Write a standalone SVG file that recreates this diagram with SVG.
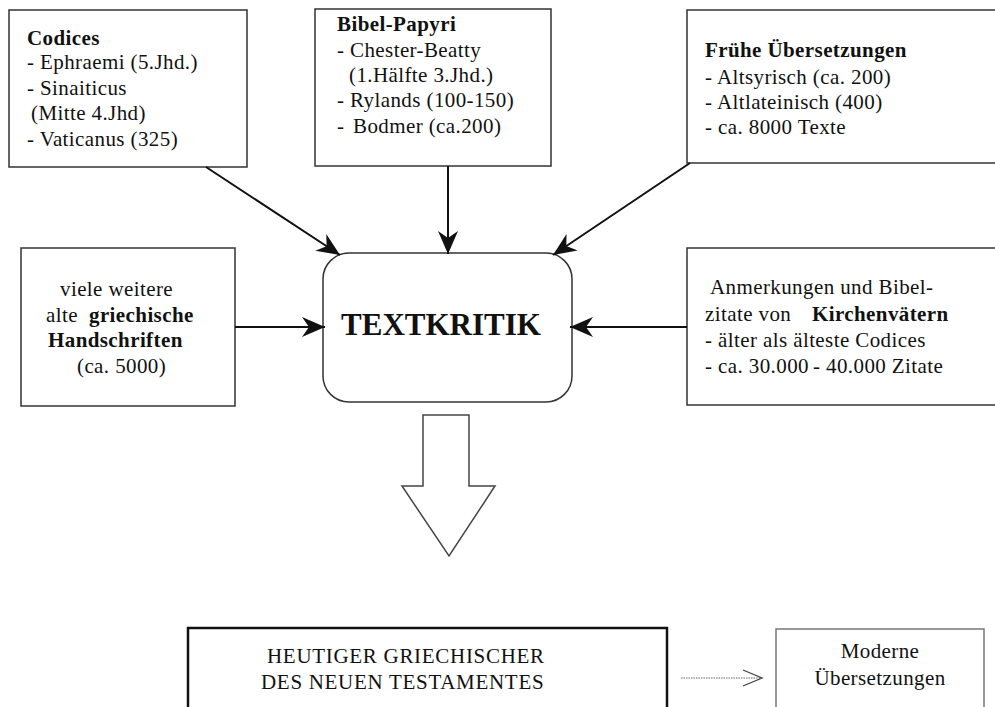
<svg xmlns="http://www.w3.org/2000/svg" width="995" height="707" viewBox="0 0 995 707">
<defs>
<style>
.box{fill:#fff;stroke:#333;stroke-width:1.5}
.t{font-family:"Liberation Serif","Times New Roman",serif;font-size:21px;letter-spacing:0.4px;fill:#111}
.b{font-weight:bold}
.con{stroke:#111;stroke-width:2;fill:none}
</style>
<marker id="ah" markerUnits="userSpaceOnUse" markerWidth="26" markerHeight="22" viewBox="0 -11 26 22" refX="23" refY="0" orient="auto">
<path d="M0,-10 L23,0 L0,10 L7,0 z" fill="#111"/>
</marker>
</defs>
<rect width="995" height="707" fill="#fff"/>

<g id="codices">
<rect class="box" x="9" y="10" width="238" height="157"/>
<text class="t"><tspan class="b" x="27" y="45">Codices</tspan><tspan x="27" y="69">- Ephraemi (5.Jhd.)</tspan><tspan x="27" y="95">- Sinaiticus</tspan><tspan x="31" y="120">(Mitte 4.Jhd)</tspan><tspan x="27" y="146">- Vaticanus (325)</tspan></text>
</g>

<g id="papyri">
<rect class="box" x="315" y="9" width="236" height="157"/>
<text class="t"><tspan class="b" x="337" y="31">Bibel-Papyri</tspan><tspan x="337" y="57">- Chester-Beatty</tspan><tspan x="349" y="82">(1.Hälfte 3.Jhd.)</tspan><tspan x="337" y="107">- Rylands (100-150)</tspan><tspan x="337" y="133">-</tspan><tspan x="353" y="133">Bodmer (ca.200)</tspan></text>
</g>

<g id="uebersetzungen">
<rect class="box" x="687" y="10" width="320" height="153"/>
<text class="t"><tspan class="b" x="705" y="57">Frühe Übersetzungen</tspan><tspan x="705" y="84">- Altsyrisch (ca. 200)</tspan><tspan x="705" y="109">- Altlateinisch (400)</tspan><tspan x="705" y="134">- ca. 8000 Texte</tspan></text>
</g>

<g id="handschriften">
<rect class="box" x="21" y="248" width="214" height="158"/>
<text class="t"><tspan x="60" y="296">viele weitere</tspan><tspan x="46" y="322">alte</tspan><tspan class="b" x="89" y="322">griechische</tspan><tspan class="b" x="48" y="347">Handschriften</tspan><tspan x="77" y="373">(ca. 5000)</tspan></text>
</g>

<g id="kirchenvaeter">
<rect class="box" x="687" y="248" width="320" height="157"/>
<text class="t"><tspan x="710" y="294">Anmerkungen und Bibel-</tspan><tspan x="705" y="321">zitate von</tspan><tspan class="b" x="812" y="321">Kirchenvätern</tspan><tspan x="705" y="347">- älter als älteste Codices</tspan><tspan x="705" y="373">- ca. 30.000</tspan><tspan x="813" y="373">- 40.000 Zitate</tspan></text>
</g>

<g id="textkritik">
<rect class="box" x="323" y="253" width="249" height="149" rx="26" ry="26"/>
<text class="t b" x="441" y="335" text-anchor="middle" style="font-size:31px;letter-spacing:0">TEXTKRITIK</text>
</g>

<g id="bigarrow">
<polygon points="423,415 469,415 469,486 495,486 449,556 402,486 423,486" fill="#fff" stroke="#444" stroke-width="1.5"/>
</g>

<g id="griechischer-text">
<rect x="188" y="628" width="479" height="100" fill="#fff" stroke="#111" stroke-width="2.5"/>
<text class="t" style="letter-spacing:0.7px"><tspan x="267" y="663">HEUTIGER GRIECHISCHER</tspan><tspan x="261" y="689">DES NEUEN TESTAMENTES</tspan></text>
</g>

<g id="moderne">
<rect x="776" y="629" width="208" height="100" fill="#fff" stroke="#777" stroke-width="1.5"/>
<text class="t" text-anchor="middle"><tspan x="880" y="658">Moderne</tspan><tspan x="880" y="685">Übersetzungen</tspan></text>
</g>

<g id="connectors">
<line class="con" x1="206" y1="167" x2="340" y2="255" marker-end="url(#ah)"/>
<line class="con" x1="448" y1="166" x2="448" y2="254" marker-end="url(#ah)"/>
<line class="con" x1="690" y1="163" x2="553" y2="255" marker-end="url(#ah)"/>
<line class="con" x1="235" y1="327" x2="325" y2="327" marker-end="url(#ah)"/>
<line class="con" x1="687" y1="327" x2="570" y2="327" marker-end="url(#ah)"/>
<line x1="681" y1="678" x2="760" y2="678" stroke="#666" stroke-width="1.2" stroke-dasharray="1.5,1"/>
<polyline points="743,670 762,678 743,686" fill="none" stroke="#444" stroke-width="1.3"/>
</g>
</svg>
